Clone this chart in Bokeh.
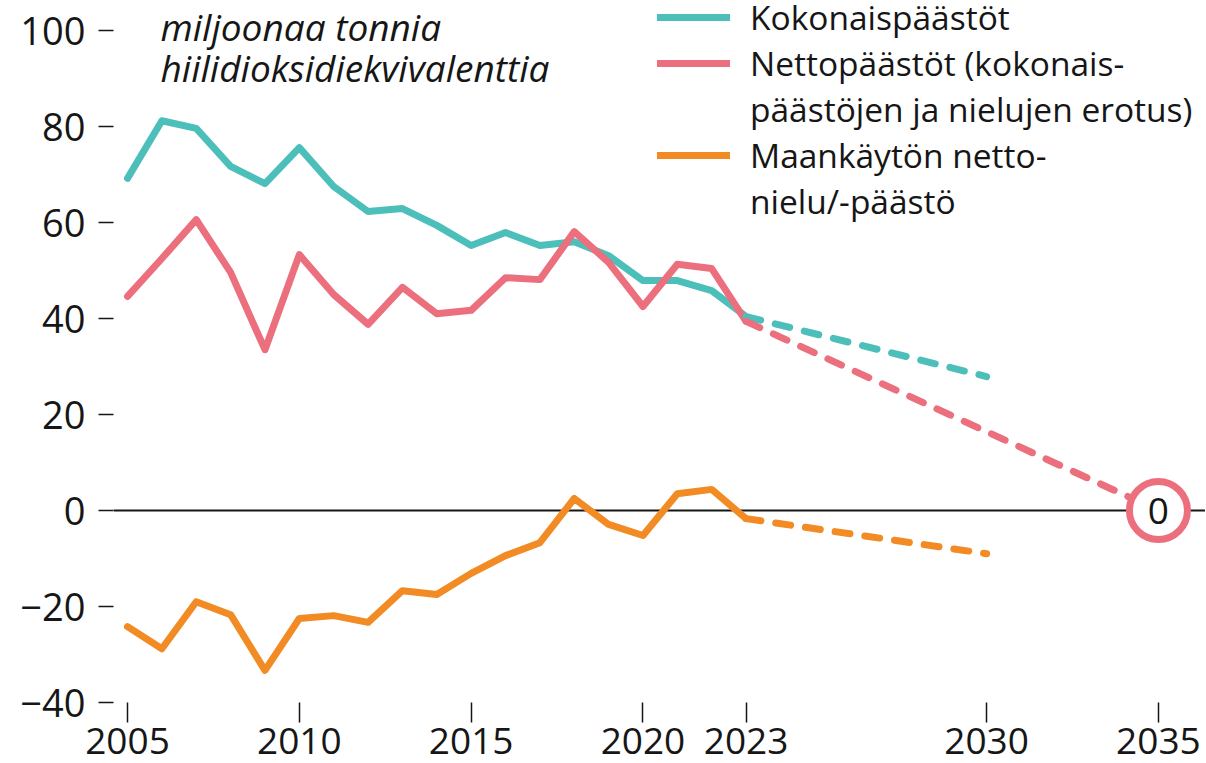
from bokeh.plotting import figure
from bokeh.models import Range1d, FixedTicker, Span, Label, Legend, LegendItem
from bokeh.embed import file_html
from bokeh.resources import INLINE
from bokeh.core.properties import value

# ---- data ----
years_hist = [2005, 2006, 2007, 2008, 2009, 2010, 2011, 2012, 2013, 2014,
              2015, 2016, 2017, 2018, 2019, 2020, 2021, 2022, 2023]
total_hist = [69.2, 81.2, 79.6, 71.7, 68.1, 75.6, 67.5, 62.3, 62.9, 59.4,
              55.2, 57.9, 55.2, 56.0, 53.1, 47.9, 47.9, 45.8, 40.4]
net_hist = [44.6, 52.5, 60.6, 49.6, 33.5, 53.3, 45.0, 38.8, 46.5, 41.0,
            41.7, 48.5, 48.1, 58.1, 51.7, 42.5, 51.3, 50.4, 39.4]
land_hist = [-24.2, -28.8, -19.0, -21.7, -33.3, -22.5, -21.9, -23.3, -16.7, -17.5,
             -13.1, -9.4, -6.7, 2.5, -2.9, -5.2, 3.5, 4.4, -1.7]

proj_total_years = [2023, 2030]
proj_total = [40.4, 27.9]
proj_net_years = [2023, 2035]
proj_net = [39.4, 0]
proj_land_years = [2023, 2030]
proj_land = [-1.7, -9.0]

target_year = [2035]
target_value = [0]
target_text = ["0"]

x_ticks = [2005, 2010, 2015, 2020, 2023, 2030, 2035]
y_ticks = [-40, -20, 0, 20, 40, 60, 80, 100]
y_overrides = {-40: "\u221240", -20: "\u221220"}

subtitle = "miljoonaa tonnia\nhiilidioksidiekvivalenttia"
legend_labels = ["Kokonaispäästöt", "Nettopäästöt (kokonais-",
                 "päästöjen ja nielujen erotus)", "Maankäytön netto-",
                 "nielu/-päästö"]

TEAL = "#4dbfbb"
PINK = "#ec6f7e"
ORANGE = "#f28b24"
INK = "#161616"
FONT = "Open Sans"

p = figure(width=1205, height=762, output_backend="svg", toolbar_location=None,
           x_range=Range1d(2004.592, 2036.37), y_range=Range1d(-40, 106.25),
           min_border_left=113, min_border_right=0, min_border_top=0,
           min_border_bottom=60)
p.outline_line_color = None
p.grid.visible = False
p.background_fill_color = "white"
p.border_fill_color = "white"

xa = p.xaxis[0]
xa.ticker = FixedTicker(ticks=x_ticks)
xa.axis_line_color = None
xa.major_tick_in = 0
xa.major_tick_out = 20
xa.major_tick_line_color = INK
xa.major_tick_line_width = 1.5
xa.minor_tick_line_color = None
xa.major_label_standoff = 5
xa.major_label_text_font = FONT
xa.major_label_text_font_size = "37px"
xa.major_label_text_color = INK

ya = p.yaxis[0]
ya.ticker = FixedTicker(ticks=y_ticks)
ya.major_label_overrides = y_overrides
ya.axis_line_color = None
ya.major_tick_in = 0
ya.major_tick_out = 15
ya.major_tick_line_color = INK
ya.major_tick_line_width = 1.5
ya.minor_tick_line_color = None
ya.major_label_standoff = 13
ya.major_label_text_font = FONT
ya.major_label_text_font_size = "38px"
ya.major_label_text_color = INK

p.add_layout(Span(location=0, dimension="width", line_color=INK,
                  line_width=2.2, level="underlay"))

common = dict(line_width=7, line_join="round", line_cap="round")
r_total = p.line(years_hist, total_hist, line_color=TEAL, **common)
r_net = p.line(years_hist, net_hist, line_color=PINK, **common)
r_land = p.line(years_hist, land_hist, line_color=ORANGE, **common)

dash = dict(line_width=7, line_dash="15 15", line_cap="round")
p.line(proj_total_years, proj_total, line_color=TEAL, **dash)
p.line(proj_net_years, proj_net, line_color=PINK, **dash)
p.line(proj_land_years, proj_land, line_color=ORANGE, **dash)

p.scatter(target_year, target_value, marker="circle", size=58,
          line_color=PINK, line_width=7, fill_color="white")
p.text(x=target_year, y=target_value, text=target_text,
       text_align="center", text_baseline="middle",
       text_font=value(FONT), text_font_size="37px", text_color=INK)

p.add_layout(Label(x=2005.96, y=106.1, text=subtitle, text_baseline="top",
                   text_font=FONT, text_font_style="italic",
                   text_font_size="37px", text_color=INK,
                   text_line_height=0.8))

blank = p.line([], [], line_alpha=0)
leg_renderers = [r_total, r_net, blank, r_land, blank]
items = [LegendItem(label=lab, renderers=[r])
         for lab, r in zip(legend_labels, leg_renderers)]

legend = Legend(items=items, location=(544, 478), orientation="vertical",
                label_text_font=FONT, label_text_font_size="33.5px",
                label_text_color=INK, glyph_width=73, glyph_height=36,
                label_height=36, label_standoff=20, spacing=0, padding=0,
                margin=0, border_line_color=None, background_fill_alpha=0)
p.add_layout(legend)

open("out.html", "w").write(file_html(p, INLINE))
